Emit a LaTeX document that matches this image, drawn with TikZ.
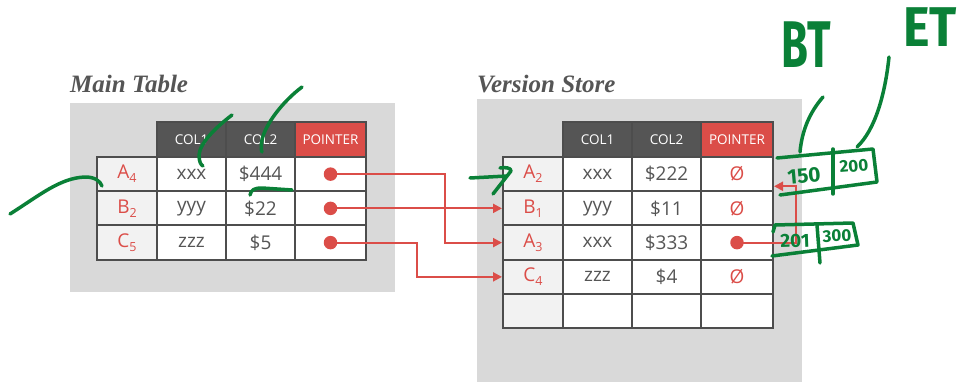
\documentclass[tikz,border=0pt]{standalone}
\usepackage{fontspec}
\setmainfont{Liberation Serif}
\newfontfamily\cellfont{Open Sans}
\newfontfamily\penfont{Fira Sans}
\usetikzlibrary{arrows.meta,calc}

\definecolor{panelgray}{RGB}{217,217,217}
\definecolor{tblline}{RGB}{77,77,77}
\definecolor{hdrgray}{RGB}{85,85,85}
\definecolor{inkgray}{RGB}{85,85,85}
\definecolor{idfill}{RGB}{242,242,242}
\definecolor{ptrred}{RGB}{219,77,72}
\definecolor{pengreen}{RGB}{10,128,55}

% row label with a dropped index
\newcommand{\rowlbl}[2]{#1\raisebox{-4pt}{\fontsize{12.5}{12.5}\selectfont #2}}

\begin{document}
\begin{tikzpicture}[x=1pt,y=-1pt,
  panel/.style={fill=panelgray, draw=none, inner sep=0pt, anchor=north west},
  tabletitle/.style={font=\fontsize{25}{25}\selectfont\bfseries\itshape, text=inkgray, anchor=base west, inner sep=0pt},
  cell/.style={draw=tblline, line width=2pt, fill=white, inner sep=0pt, minimum height=34.25pt,
    text=inkgray, font=\cellfont\fontsize{19}{19}\selectfont},
  idcell/.style={cell, fill=idfill, text=ptrred, minimum width=60pt},
  colcell/.style={cell, minimum width=69pt},
  ptrcell/.style={cell, text=ptrred, minimum width=71pt},
  hdr/.style={cell, fill=hdrgray, text=white, minimum height=35pt, font=\cellfont\fontsize{13.5}{13.5}\selectfont},
  dot/.style={circle, fill=ptrred, inner sep=0pt, minimum size=13.5pt},
  ptr/.style={draw=ptrred, line width=2pt, -{Triangle[length=9pt,width=9pt]}},
  inkstroke/.style={draw=pengreen, line width=3.5pt, line cap=round, line join=round},
  handtext/.style={text=pengreen, inner sep=0pt, font=\penfont\bfseries}
]
\useasboundingbox (0,0) rectangle (969,382);

% grey panels and titles
\node[panel, minimum width=325pt, minimum height=189pt] (mpanel) at (70,103) {};
\node[panel, minimum width=325pt, minimum height=283pt] (vpanel) at (477,99) {};
\node[tabletitle] (mtitle) at (70,93) {Main Table};
\node[tabletitle] (vtitle) at (477,93) {Version Store};

% ---- main table ----
\node[hdr, minimum width=69pt] (m-h1) at (191.5,139.5) {COL1};
\node[hdr, minimum width=69pt] (m-h2) at (260.5,139.5) {COL2};
\node[hdr, fill=ptrred, minimum width=71pt] (m-h3) at (330.5,139.5) {POINTER};
\foreach \lbl/\sub/\ca/\cb [count=\r] in {A/4/xxx/\$444, B/2/yyy/\$22, C/5/zzz/\$5} {
  \pgfmathsetmacro\yy{157+34.25*(\r-0.5)}
  \node[idcell] (m\r-id) at (127,\yy) {\rowlbl{\lbl}{\sub}};
  \node[colcell] (m\r-c1) at (191.5,\yy) {\ca};
  \node[colcell] (m\r-c2) at (260.5,\yy) {\cb};
  \node[ptrcell] (m\r-p) at (330.5,\yy) {};
}

% ---- version store ----
\node[hdr, minimum width=69pt] (v-h1) at (597.5,139.5) {COL1};
\node[hdr, minimum width=69pt] (v-h2) at (666.5,139.5) {COL2};
\node[hdr, fill=ptrred, minimum width=72pt] (v-h3) at (737,139.5) {POINTER};
\foreach \lbl/\sub/\ca/\cb/\pv [count=\r] in {A/2/xxx/\$222/Ø, B/1/yyy/\$11/Ø, A/3/xxx/\$333/{}, C/4/zzz/\$4/Ø} {
  \pgfmathsetmacro\yy{157+34.25*(\r-0.5)}
  \node[idcell] (v\r-id) at (533,\yy) {\rowlbl{\lbl}{\sub}};
  \node[colcell] (v\r-c1) at (597.5,\yy) {\ca};
  \node[colcell] (v\r-c2) at (666.5,\yy) {\cb};
  \node[ptrcell, minimum width=72pt] (v\r-p) at (737,\yy) {\pv};
}
\node[idcell] (v5-id) at (533,311.125) {};
\node[colcell] (v5-c1) at (597.5,311.125) {};
\node[colcell] (v5-c2) at (666.5,311.125) {};
\node[ptrcell, minimum width=72pt] (v5-p) at (737,311.125) {};

% ---- pointers ----
\coordinate (bendA) at (445,0);
\coordinate (bendC) at (417,0);
\coordinate (bendV) at (796,0);
\coordinate (backA2) at ($(v1-p.south east)+(0,-6)$);
\draw[ptr] (m1-p.center) -- (m1-p.center -| bendA) |- (v3-id.west);
\draw[ptr] (m2-p.center) -- (v2-id.west);
\draw[ptr] (m3-p.center) -- (m3-p.center -| bendC) |- (v4-id.west);
\draw[ptr] (v3-p.center) -- (v3-p.center -| bendV) |- (backA2);
\foreach \n in {m1-p, m2-p, m3-p, v3-p}
  \node[dot] (\n-dot) at (\n.center) {};

% ---- pen annotations ----
\draw[inkstroke] (10,214) .. controls (40,195) and (60,178) .. (85,177) .. controls (95,177) and (100,181) .. (102,186);
\draw[inkstroke] (232,115) .. controls (215,128) and (200,143) .. (199,155) .. controls (199,162) and (201,165) .. (203,166);
\draw[inkstroke] (302,87) .. controls (282,102) and (265,125) .. (262,140) .. controls (261,146) and (261,150) .. (262,152);
\draw[inkstroke] (250,195) .. controls (251,190) and (254,188) .. (262,188) -- (292,190);
\draw[inkstroke] (470,178) -- (507,176);
\draw[inkstroke] (500,168) .. controls (506,167) and (511,168) .. (511,171) -- (493,194);

\draw[inkstroke] (823,97) .. controls (810,112) and (802,130) .. (800,152);
\draw[inkstroke] (889,57) .. controls (885,95) and (875,130) .. (857,147);
\draw[inkstroke] (777,158) -- (873,149) -- (877,182) -- (780,195);
\draw[inkstroke] (833,149) -- (833,194);
\draw[inkstroke] (773,232) -- (775,225) -- (853,223) -- (858,245) -- (772,256);
\draw[inkstroke] (817,225) -- (820,263);

\node[handtext] (bt) at (806,45) {\scalebox{0.66}[1]{\fontsize{66}{66}\selectfont BT}};
\node[handtext] (et) at (930,27) {\scalebox{0.9}[1]{\fontsize{56}{56}\selectfont ET}};
\node[handtext, rotate=5] (bt1) at (804,176) {\fontsize{21}{21}\selectfont 150};
\node[handtext, rotate=5] (et1) at (854,166) {\fontsize{17}{17}\selectfont 200};
\node[handtext, rotate=2] (bt2) at (795,241) {\fontsize{19}{19}\selectfont 201};
\node[handtext, rotate=2] (et2) at (837,236) {\fontsize{17}{17}\selectfont 300};
\end{tikzpicture}
\end{document}
